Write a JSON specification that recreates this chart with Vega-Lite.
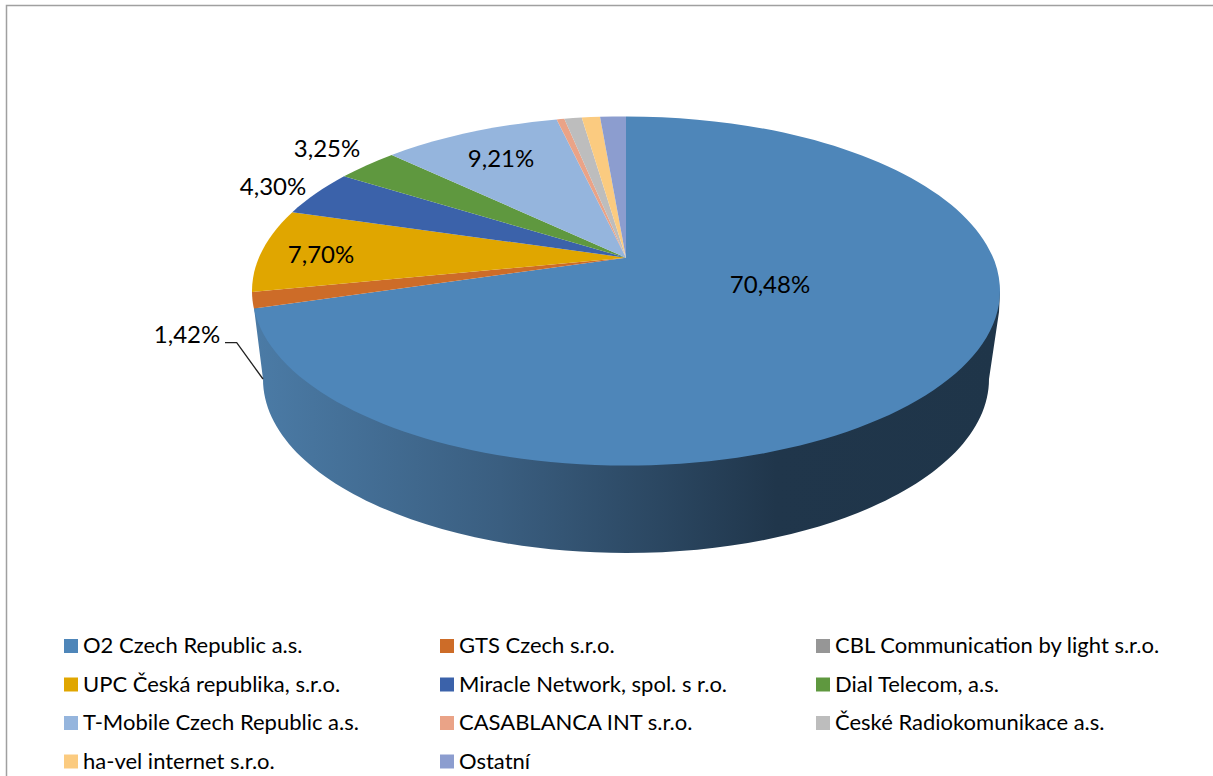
{
  "$schema": "https://vega.github.io/schema/vega-lite/v6.json",
  "width": 1213,
  "height": 776,
  "autosize": {"type": "none"},
  "padding": 0,
  "background": "white",
  "config": {"view": {"stroke": null}},
  "data": {"values": [
    {"name": "O2 Czech Republic a.s.", "share": 70.48, "label": "70,48%"},
    {"name": "GTS Czech s.r.o.", "share": 1.42, "label": "1,42%"},
    {"name": "CBL Communication by light s.r.o.", "share": 0.02},
    {"name": "UPC Česká republika, s.r.o.", "share": 7.70, "label": "7,70%"},
    {"name": "Miracle Network, spol. s r.o.", "share": 4.30, "label": "4,30%"},
    {"name": "Dial Telecom, a.s.", "share": 3.25, "label": "3,25%"},
    {"name": "T-Mobile Czech Republic a.s.", "share": 9.21, "label": "9,21%"},
    {"name": "CASABLANCA INT s.r.o.", "share": 0.4},
    {"name": "České Radiokomunikace a.s.", "share": 0.9},
    {"name": "ha-vel internet s.r.o.", "share": 1.0},
    {"name": "Ostatní", "share": 1.32}
  ]},
  "layer": [
    {
      "data": {"values": [{"part": "frame"}]},
      "mark": {"type": "point", "size": 4, "filled": false, "opacity": 1, "stroke": "#a0a0a0", "strokeWidth": 1.5,
        "shape": "M-600,388 L-600,-382.5 L606.5,-382.5"}
    },
    {
      "transform": [{"filter": "datum.share > 50"}],
      "mark": {"type": "point", "size": 4, "filled": true, "opacity": 1,
        "shape": "M-352.5,-80 L-343.5,-9 A363,174 0 0 0 382.5,-9 L392.5,-76 L393.5,-97 Z",
        "fill": {"gradient": "linear", "x1": 0, "y1": 0, "x2": 1, "y2": 0, "stops": [
          {"offset": 0, "color": "#4b7ba6"},
          {"offset": 0.33, "color": "#3a5e80"},
          {"offset": 0.7, "color": "#20364b"},
          {"offset": 1, "color": "#1f3549"}
        ]}}
    },
    {
      "mark": {"type": "point", "size": 4, "filled": true, "opacity": 1},
      "encoding": {
        "color": {
          "field": "name", "type": "nominal",
          "scale": {
            "domain": ["O2 Czech Republic a.s.", "GTS Czech s.r.o.", "CBL Communication by light s.r.o.", "UPC Česká republika, s.r.o.", "Miracle Network, spol. s r.o.", "Dial Telecom, a.s.", "T-Mobile Czech Republic a.s.", "CASABLANCA INT s.r.o.", "České Radiokomunikace a.s.", "ha-vel internet s.r.o.", "Ostatní"],
            "range": ["#4e86b9", "#cd6c28", "#969696", "#e0a600", "#3b62aa", "#5f983f", "#95b5dd", "#eaa387", "#bdbdbd", "#fbcb80", "#8c9dcf"]
          },
          "legend": {
            "title": null, "orient": "none", "legendX": 60, "legendY": 635, "direction": "horizontal", "columns": 3,
            "padding": 0, "symbolType": "square", "symbolSize": 196, "symbolStrokeWidth": 0, "symbolOpacity": 1,
            "labelFont": "Lato", "labelFontSize": 22, "labelColor": "#000000", "labelLimit": 500, "labelOffset": 1,
            "columnPadding": 27, "rowPadding": 16.5, "gridAlign": "all"
          }
        },
        "shape": {
          "field": "share", "type": "nominal", "legend": null,
          "scale": {
            "domain": [70.48, 1.42, 0.02, 7.70, 4.30, 3.25, 9.21, 0.4, 0.9, 1.0, 1.32],
            "range": [
              "M19.5,-130.3 L19.5,-271.6 A374,174.6 0 1 1 -352.6,-79.4 Z",
              "M19.5,-130.3 L-352.6,-79.4 A374,174.6 0 0 1 -354.5,-96 Z",
              "M19.5,-130.3 L-354.5,-96 Z",
              "M19.5,-130.3 L-354.5,-96 A374,174.6 0 0 1 -314.2,-175.8 Z",
              "M19.5,-130.3 L-314.2,-175.8 A374,174.6 0 0 1 -262.5,-211.7 Z",
              "M19.5,-130.3 L-262.5,-211.7 A374,174.6 0 0 1 -214.8,-233.1 Z",
              "M19.5,-130.3 L-214.8,-233.1 A374,174.6 0 0 1 -49.8,-268.6 Z",
              "M19.5,-130.3 L-49.8,-268.6 A374,174.6 0 0 1 -42.2,-269.2 Z",
              "M19.5,-130.3 L-42.2,-269.2 A374,174.6 0 0 1 -24.8,-270.4 Z",
              "M19.5,-130.3 L-24.8,-270.4 A374,174.6 0 0 1 -6.5,-271.2 Z",
              "M19.5,-130.3 L-6.5,-271.2 A374,174.6 0 0 1 19.5,-271.6 Z"
            ]
          }
        }
      }
    },
    {
      "transform": [{"filter": "datum.share == 1.42"}],
      "mark": {"type": "point", "size": 4, "filled": false, "opacity": 1, "stroke": "#222222", "strokeWidth": 1.3,
        "shape": "M-381.5,-45.3 L-369.8,-45.3 L-343.5,-9"}
    },
    {
      "transform": [{"filter": "isValid(datum.label)"}],
      "mark": {"type": "text", "font": "Lato", "fontSize": 24, "color": "#000000", "align": "center", "baseline": "middle"},
      "encoding": {
        "text": {"field": "label", "type": "nominal"},
        "x": {"field": "share", "type": "quantitative", "axis": null,
          "scale": {"domain": [1.42, 3.25, 4.30, 7.70, 9.21, 70.48], "range": [187, 327, 273, 321, 501, 770], "zero": false, "nice": false}},
        "y": {"field": "share", "type": "quantitative", "axis": null,
          "scale": {"domain": [1.42, 3.25, 4.30, 7.70, 9.21, 70.48], "range": [336, 150, 188, 256, 160, 286], "zero": false, "nice": false}}
      }
    }
  ]
}
